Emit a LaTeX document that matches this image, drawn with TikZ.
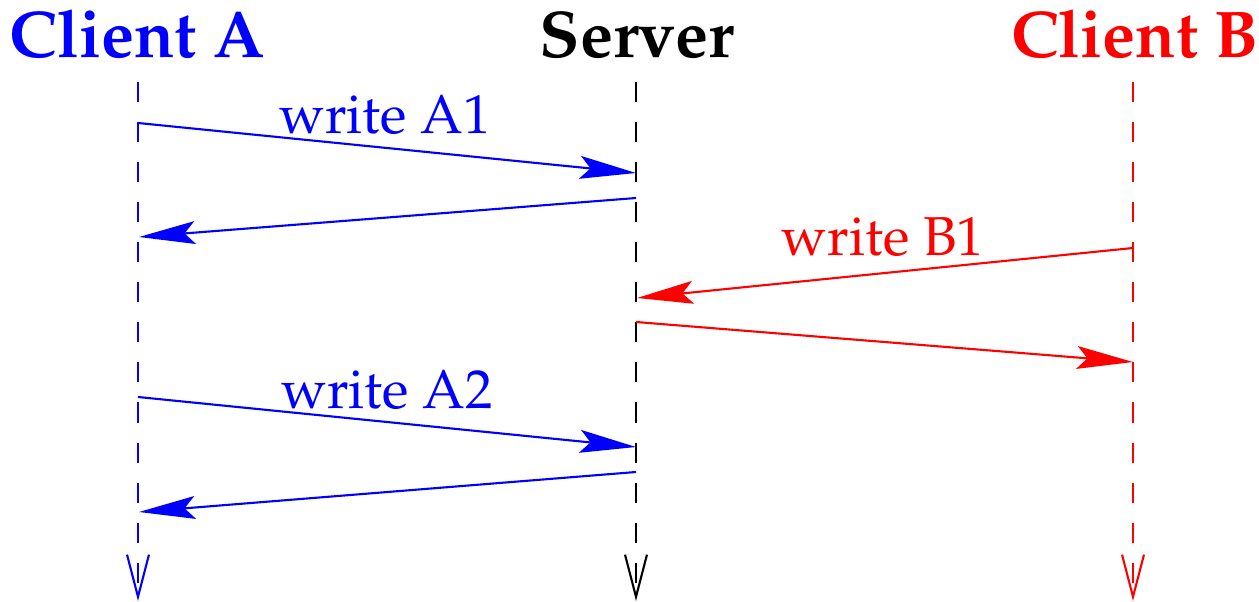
\documentclass[tikz,border=0pt]{standalone}
\usepackage[T1]{fontenc}
\usepackage{palatino}
\usetikzlibrary{arrows.meta}
\definecolor{cblue}{RGB}{0,0,255}
\definecolor{cred}{RGB}{255,0,0}
\tikzset{
  title/.style={anchor=base, inner sep=0pt, font=\fontsize{37.6}{40}\selectfont\bfseries},
  msglabel/.style={anchor=base, inner sep=0pt, font=\fontsize{31.2}{34}\selectfont},
  lifeline/.style={line width=1.2pt, dash pattern=on 11.4pt off 11.4pt,
    -{Straight Barb[length=24pt, width=12.5pt, line width=1.2pt]}},
  msg/.style={line width=1.2pt, -{Stealth[length=32pt, width=13pt, inset=6pt]}}
}
\begin{document}
\begin{tikzpicture}[x=0.02cm, y=-0.02cm]
  \useasboundingbox (0,0) rectangle (1259,602);

  % participants
  \node[title, text=cblue] (ta) at (137,57) {Client A};
  \node[title, text=black] (ts) at (637,57) {Server};
  \node[title, text=cred]  (tb) at (1135,57) {Client B};

  % lifeline ends
  \coordinate (A0) at (138,82);  \coordinate (A1) at (138,601);
  \coordinate (S0) at (636,82);  \coordinate (S1) at (636,601);
  \coordinate (B0) at (1133,82); \coordinate (B1) at (1133,601);

  \draw[lifeline, cblue] (A0) -- (A1);
  \draw[lifeline, black] (S0) -- (S1);
  \draw[lifeline, cred]  (B0) -- (B1);

  % message points on the lifelines
  \coordinate (a1s) at (138,123); \coordinate (a1e) at (636,173);
  \coordinate (r1s) at (636,198); \coordinate (r1e) at (139,237);
  \coordinate (b1s) at (1133,248); \coordinate (b1e) at (637,298);
  \coordinate (r2s) at (636,322); \coordinate (r2e) at (1133,362);
  \coordinate (a2s) at (138,397); \coordinate (a2e) at (636,447);
  \coordinate (r3s) at (636,472); \coordinate (r3e) at (139,512);

  % messages
  \draw[msg, cblue] (a1s) -- (a1e);
  \draw[msg, cblue] (r1s) -- (r1e);
  \draw[msg, cred]  (b1s) -- (b1e);
  \draw[msg, cred]  (r2s) -- (r2e);
  \draw[msg, cblue] (a2s) -- (a2e);
  \draw[msg, cblue] (r3s) -- (r3e);

  % labels
  \node[msglabel, text=cblue] (la1) at (385,133) {write A1};
  \node[msglabel, text=cred]  (lb1) at (883,255) {write B1};
  \node[msglabel, text=cblue] (la2) at (387,408) {write A2};
\end{tikzpicture}
\end{document}
